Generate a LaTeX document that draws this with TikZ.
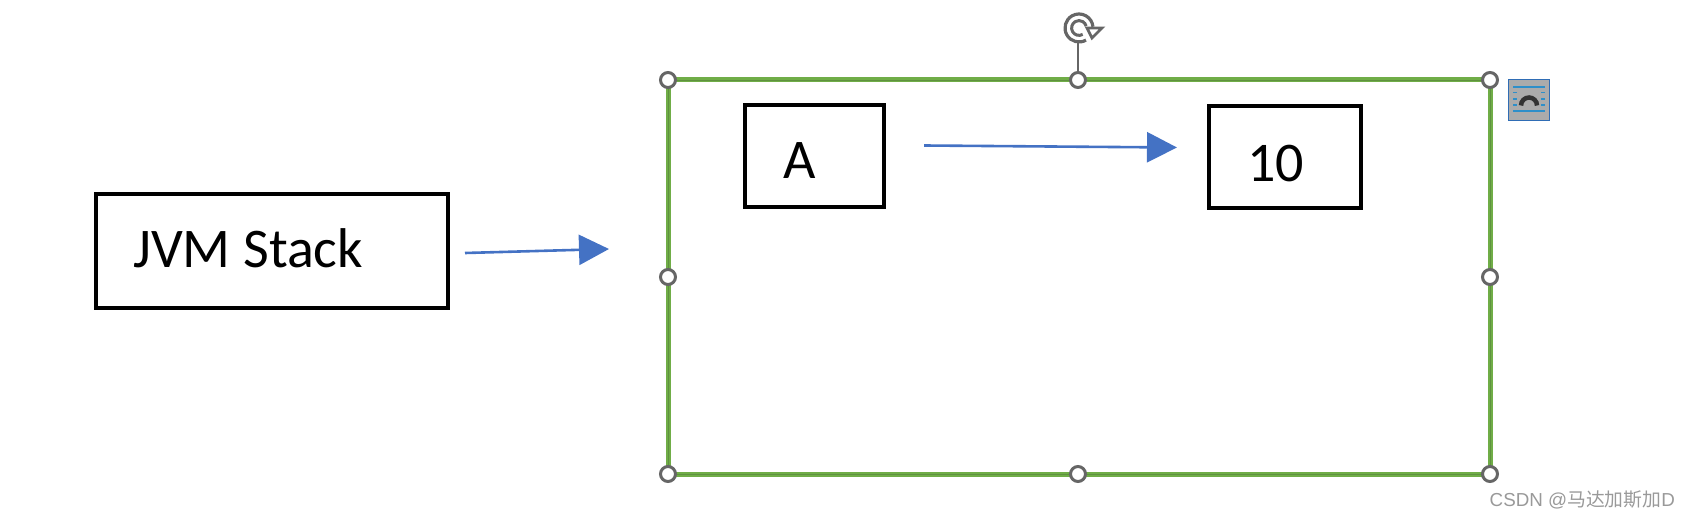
\documentclass[tikz,border=0pt]{standalone}
\usepackage{fontspec}
\setmainfont{Carlito}
\newfontfamily\wmfont{Liberation Sans}
\newfontfamily\wmcjk{Noto Sans CJK SC}
\usetikzlibrary{arrows.meta}
\definecolor{selgreen}{HTML}{70AD47}
\definecolor{selcorecol}{HTML}{5F9140}
\definecolor{handlegray}{HTML}{666666}
\definecolor{arrowblue}{HTML}{4472C4}
\definecolor{iconblue}{HTML}{2F6DB5}
\definecolor{iconfill}{HTML}{ABABAB}
\definecolor{iconline}{HTML}{2E8FC9}
\tikzset{
  blackbox/.style={draw=black,line width=4pt,fill=white,inner sep=0pt,anchor=north west},
  selframe/.style={draw=selgreen,line width=5pt},
  selcore/.style={draw=selcorecol,line width=0.9pt},
  handle/.style={circle,draw=handlegray,fill=white,line width=3pt,minimum size=15pt,inner sep=0pt},
  bluearrow/.style={draw=arrowblue,line width=2.6pt,-{Triangle[length=30pt,width=30pt,fill=arrowblue]}},
  iconrule/.style={draw=iconline,line width=1.4pt},
  bigtext/.style={font=\fontsize{56}{56}\selectfont,anchor=base west,inner sep=0pt}
}
\begin{document}
\begin{tikzpicture}[x=1pt,y=-1pt]
\useasboundingbox (0,0) rectangle (1689,518);
% selection frame
\coordinate (tl) at (668,80);
\coordinate (br) at (1490,474);
\draw[selframe] (tl) rectangle (br);
\draw[selcore] (tl) rectangle (br);
% boxes
\node[blackbox,minimum width=352.5pt,minimum height=114pt] (jvm) at (93.5,192.5) {};
\node[bigtext] (jvmt) at (133,268) {JVM Stack};
\node[blackbox,minimum width=139pt,minimum height=102.5pt] (a) at (743.3,103) {};
\node[bigtext] (at) at (783,179) {A};
\node[blackbox,minimum width=152pt,minimum height=101.5pt] (ten) at (1207,104.5) {};
\node[bigtext] (tt) at (1247,182) {10};
% arrows
\coordinate (a1s) at (465,253);
\coordinate (a1e) at (609,249);
\coordinate (a2s) at (924,145.5);
\coordinate (a2e) at (1177,147.5);
\draw[bluearrow] (a1s) -- (a1e);
\draw[bluearrow] (a2s) -- (a2e);
% rotation stem
\node[handle] (htc) at (1078,80) {};
\coordinate (stemtop) at (1078,43);
\draw[draw=handlegray,line width=1.4pt] (htc.north) -- (stemtop);
% rotation icon (y axis points down, so angles run clockwise)
\draw[handlegray,line width=3.2pt] (1086,40.1) arc[start angle=60,end angle=355,radius=14];
\draw[handlegray,line width=3pt] (1082.7,34.4) arc[start angle=60,end angle=345,radius=7.4];
\draw[handlegray,line width=2.8pt,fill=white,line join=miter] (1087,28) -- (1102,28) -- (1092,38) -- cycle;
% handles
\node[handle] (h1) at (668,80) {};
\node[handle] (h2) at (1490,80) {};
\node[handle] (h3) at (668,277) {};
\node[handle] (h4) at (1490,277) {};
\node[handle] (h5) at (668,474) {};
\node[handle] (h6) at (1078,474) {};
\node[handle] (h7) at (1490,474) {};
% layout icon
\node[draw=iconblue,fill=iconfill,line width=1pt,minimum width=41pt,minimum height=41pt,inner sep=0pt] (icon) at (1529,100) {};
\draw[iconrule] (1513,87) -- (1545,87);
\draw[iconrule] (1513,111) -- (1545,111);
\draw[iconrule] (1513,92.5) -- (1517,92.5) (1541,92.5) -- (1545,92.5);
\draw[iconrule] (1513,99) -- (1517,99) (1541,99) -- (1545,99);
\draw[iconrule] (1513,105) -- (1517,105) (1541,105) -- (1545,105);
\draw[draw=black!80,line width=4.5pt] (1521,105.5) arc[start angle=180,end angle=360,radius=8];
% watermark
\node[anchor=base west,inner sep=0pt,text=black!40,font=\fontsize{18.8}{19}\selectfont] (wm) at (1489.5,506) {\wmfont CSDN @\wmcjk 马达加斯加\wmfont D};
\end{tikzpicture}
\end{document}
